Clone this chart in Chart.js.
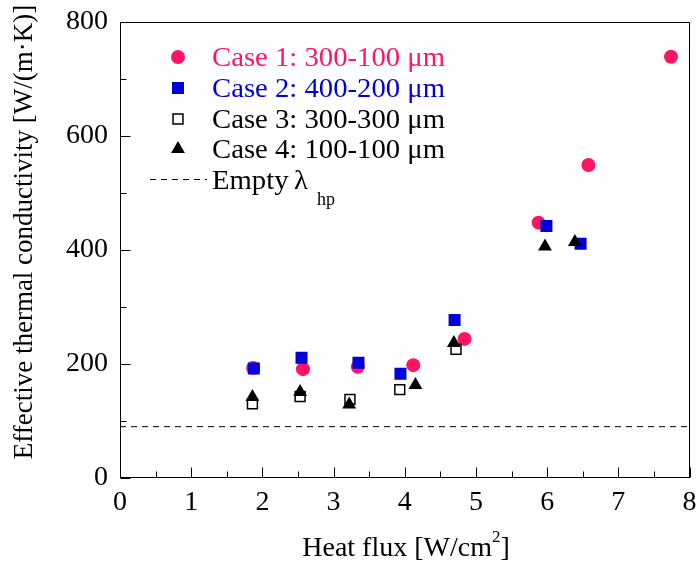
<!DOCTYPE html>
<html>
<head>
<meta charset="utf-8">
<script src="https://cdn.jsdelivr.net/npm/chart.js@4.4.0/dist/chart.umd.min.js"></script>
<style>
  html, body { margin: 0; padding: 0; background: #fff; }
  #wrap { width: 698px; height: 564px; }
</style>
</head>
<body>
<div id="wrap"><canvas id="chart" width="698" height="564"></canvas></div>
<script>
const SERIF = '"Liberation Serif", "Times New Roman", serif';

// data
const case1X = [1.87, 2.57, 3.34, 4.12, 4.84, 5.88, 6.58, 7.74];
const case1Y = [193, 191, 195, 198, 244, 448, 549, 739];
const case2X = [1.88, 2.55, 3.35, 3.94, 4.70, 5.99, 6.47];
const case2Y = [192, 211, 202, 183, 277, 442, 411];
const case3X = [1.86, 2.53, 3.23, 3.93, 4.72];
const case3Y = [130, 143, 138, 155, 226];
const case4X = [1.86, 2.53, 3.22, 4.15, 4.69, 5.97, 6.39];
const case4Y = [142, 151, 129, 163, 237, 406, 414];
const emptyX = [0, 8];
const emptyY = [90, 90];

const xTicks = [0, 1, 2, 3, 4, 5, 6, 7, 8];
const yTicks = [0, 200, 400, 600, 800];
const legendLabels = ['Case 1: 300-100 \u03bcm', 'Case 2: 400-200 \u03bcm', 'Case 3: 300-300 \u03bcm', 'Case 4: 100-100 \u03bcm', 'Empty'];
const xTitle = 'Heat flux [W/cm';
const yTitle = 'Effective thermal conductivity [W/(m\u00b7K)]';

const PINK = '#ff1466';
const BLUE = '#0000d8';

function pts(xs, ys) {
    return xs.map((x, i) => ({x: x, y: ys[i]}));
}

const styles = [
    {pointStyle: 'circle', pointRadius: 7, backgroundColor: PINK, borderColor: PINK, borderWidth: 0, color: PINK},
    {pointStyle: 'rect', pointRadius: 8.5, backgroundColor: BLUE, borderColor: BLUE, borderWidth: 0, color: BLUE},
    {pointStyle: 'rect', pointRadius: 7, backgroundColor: '#fff', borderColor: '#000', borderWidth: 1.5, color: '#000'},
    {pointStyle: 'triangle', pointRadius: 8, backgroundColor: '#000', borderColor: '#000', borderWidth: 0, color: '#000'}
];

function drawMarker(ctx, s, x, y) {
    ctx.save();
    ctx.fillStyle = s.backgroundColor;
    ctx.strokeStyle = s.borderColor;
    ctx.lineWidth = s.borderWidth;
    const r = s.pointRadius;
    ctx.beginPath();
    if (s.pointStyle === 'circle') {
        ctx.arc(x, y, r, 0, Math.PI * 2);
    } else if (s.pointStyle === 'rect') {
        const h = r * Math.SQRT1_2;
        ctx.rect(x - h, y - h, 2 * h, 2 * h);
    } else {
        const a = 2 * Math.PI / 3;
        ctx.moveTo(x, y - r);
        ctx.lineTo(x + Math.sin(a) * r, y - Math.cos(a) * r);
        ctx.lineTo(x + Math.sin(2 * a) * r, y - Math.cos(2 * a) * r);
        ctx.closePath();
    }
    ctx.fill();
    if (s.borderWidth > 0) ctx.stroke();
    ctx.restore();
}

function stretchText(ctx, s, x, y, sx) {
    ctx.save();
    ctx.translate(x, y);
    ctx.scale(sx, 1);
    ctx.fillText(s, 0, 0);
    ctx.restore();
}

// frame, inward ticks, axis titles and legend
const decor = {
    id: 'decor',
    afterDraw(chart) {
        const {ctx, chartArea: a, scales: {x, y}} = chart;
        ctx.save();
        ctx.strokeStyle = '#000';
        ctx.lineWidth = 1;
        const L = Math.round(a.left) + 0.5, R = Math.round(a.right) - 0.5;
        const T = Math.round(a.top) + 0.5, B = Math.round(a.bottom) - 0.5;
        ctx.strokeRect(L, T, R - L, B - T);
        ctx.beginPath();
        for (let v = 0; v <= 8; v += 0.5) {
            const px = Math.round(x.getPixelForValue(v)) + 0.5;
            const len = v % 1 === 0 ? 10 : 6;
            ctx.moveTo(px, B);
            ctx.lineTo(px, B - len);
        }
        for (let v = 0; v <= 800; v += 100) {
            const py = Math.round(y.getPixelForValue(v)) + 0.5;
            const len = v % 200 === 0 ? 10 : 6;
            ctx.moveTo(L, py);
            ctx.lineTo(L + len, py);
        }
        ctx.stroke();

        // axis titles
        ctx.fillStyle = '#000';
        ctx.textBaseline = 'alphabetic';
        ctx.textAlign = 'left';
        ctx.font = '28px ' + SERIF;
        const w1 = ctx.measureText(xTitle).width;
        const w3 = ctx.measureText(']').width;
        ctx.font = '17px ' + SERIF;
        const w2 = ctx.measureText('2').width;
        const x0 = 406 - (w1 + w2 + w3) / 2;
        ctx.font = '28px ' + SERIF;
        ctx.fillText(xTitle, x0, 556);
        ctx.fillText(']', x0 + w1 + w2, 556);
        ctx.font = '17px ' + SERIF;
        ctx.fillText('2', x0 + w1, 542);

        ctx.save();
        ctx.translate(32, 232);
        ctx.rotate(-Math.PI / 2);
        ctx.textAlign = 'center';
        ctx.font = '27px ' + SERIF;
        ctx.fillText(yTitle, 0, 0);
        ctx.restore();

        // legend
        const rows = [57, 88, 119, 149];
        ctx.font = '27px ' + SERIF;
        const sx = 233 / ctx.measureText(legendLabels[0]).width;
        rows.forEach((ry, i) => {
            drawMarker(ctx, styles[i], 178, ry);
            ctx.fillStyle = styles[i].color;
            stretchText(ctx, legendLabels[i], 212, ry + 9, sx);
        });
        ctx.setLineDash([6, 5]);
        ctx.beginPath();
        ctx.moveTo(150, 179.5);
        ctx.lineTo(207, 179.5);
        ctx.stroke();
        ctx.setLineDash([]);
        ctx.fillStyle = '#000';
        stretchText(ctx, legendLabels[4], 212, 189, sx);
        stretchText(ctx, '\u03bb', 294, 189, sx);
        ctx.font = '18px ' + SERIF;
        stretchText(ctx, 'hp', 317, 205, 1);
        ctx.restore();
    }
};

const datasets = [
    {label: 'Empty', type: 'line', data: pts(emptyX, emptyY), borderColor: '#000', borderWidth: 1,
     borderDash: [6, 5], pointRadius: 0, order: 5}
];
[[case1X, case1Y], [case2X, case2Y], [case3X, case3Y], [case4X, case4Y]].forEach((d, i) => {
    datasets.push(Object.assign({label: legendLabels[i], data: pts(d[0], d[1]), order: 4 - i,
        pointHoverRadius: styles[i].pointRadius}, styles[i]));
});

const ctx = document.getElementById('chart').getContext('2d');
const chart = new Chart(ctx, {
    type: 'scatter',
    data: {datasets: datasets},
    options: {
        responsive: false,
        animation: false,
        devicePixelRatio: 1,
        layout: {padding: {left: 0, right: 7, top: 22, bottom: 0}},
        plugins: {legend: {display: false}, tooltip: {enabled: false}},
        scales: {
            x: {
                type: 'linear', min: 0, max: 8,
                afterBuildTicks: (s) => { s.ticks = xTicks.map(v => ({value: v})); },
                afterFit: (s) => { s.height = 86; s.paddingLeft = 0; s.paddingRight = 0; },
                grid: {display: false, drawTicks: false},
                border: {display: false},
                ticks: {color: '#000', font: {family: SERIF, size: 28}, padding: 8, maxRotation: 0}
            },
            y: {
                type: 'linear', min: 0, max: 800,
                afterBuildTicks: (s) => { s.ticks = yTicks.map(v => ({value: v})); },
                afterFit: (s) => { s.width = 120; s.paddingTop = 0; s.paddingBottom = 0; },
                grid: {display: false, drawTicks: false},
                border: {display: false},
                ticks: {color: '#000', font: {family: SERIF, size: 28}, padding: 12}
            }
        }
    },
    plugins: [decor]
});
</script>
</body>
</html>
